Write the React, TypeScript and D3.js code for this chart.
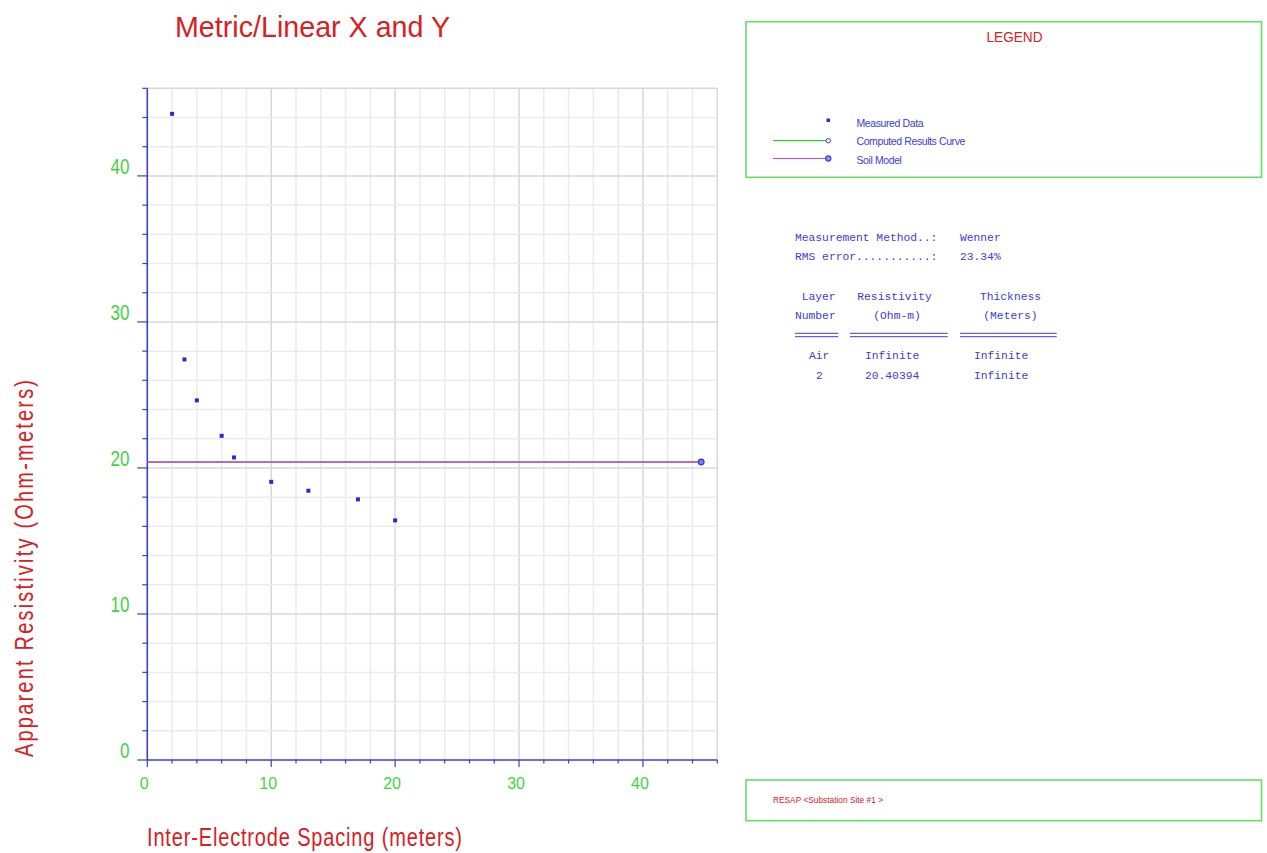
import React from "react";
import * as d3 from "d3";

// ---- data ----
const spacing = [2, 3, 4, 6, 7, 10, 13, 17, 20];
const resistivity = [44.25, 27.43, 24.63, 22.2, 20.72, 19.05, 18.44, 17.85, 16.41];
const soilModelX = [0, 44.7];
const soilModelY = [20.40394, 20.40394];
const computedX = [0, 44.7];
const computedY = [20.40394, 20.40394];
const xTicks = [0, 10, 20, 30, 40];
const yTicks = [0, 10, 20, 30, 40];
const legendItems = ["Measured Data", "Computed Results Curve", "Soil Model"];
const infoLabels = ["Measurement Method..:", "RMS error...........:"];
const infoValues = ["Wenner", "23.34%"];
const layerNames = ["Air", "2"];
const layerRes = ["Infinite", "20.40394"];
const layerThick = ["Infinite", "Infinite"];

const RED = "#d8201f";
const BLUE = "#3c3cd8";
const GREEN_TXT = "#3fd33f";
const BOX_GREEN = "#66dd66";
const MONO = "'Liberation Mono', 'DejaVu Sans Mono', monospace";
const SANS = "'Liberation Sans', Arial, sans-serif";

export default function App() {
  const x = d3.scaleLinear().domain([0, 46]).range([147.3, 717.3]);
  const y = d3.scaleLinear().domain([0, 46]).range([760, 88.3]);
  const grid = d3.range(2, 47, 2);
  const ticks = d3.range(0, 47, 2);
  const pathOf = (xs: number[], ys: number[]) =>
    d3.line<[number, number]>().x((d) => x(d[0])).y((d) => y(d[1]))(
      xs.map((v, i) => [v, ys[i]] as [number, number])
    ) ?? "";
  const soilPath = pathOf(soilModelX, soilModelY);
  const compPath = pathOf(computedX, computedY);

  return (
    <svg
      width={1267}
      height={853}
      style={{ position: "absolute", left: 0, top: 0, background: "#fff" }}
    >
      {/* title */}
      <g transform="translate(175,36.5) scale(1,1.25)">
        <text x={0} y={0} fontFamily={SANS} fontSize={24} fill={RED} textLength={275} lengthAdjust="spacingAndGlyphs">
          Metric/Linear X and Y
        </text>
      </g>

      {/* grid */}
      {grid.map((g) => (
        <line key={"vx" + g} x1={x(g)} x2={x(g)} y1={y(46)} y2={y(0)} stroke={g % 10 === 0 || g === 46 ? "#d8d8d8" : "#ebebeb"} strokeWidth={1.5} />
      ))}
      {grid.map((g) => (
        <line key={"hy" + g} y1={y(g)} y2={y(g)} x1={x(0)} x2={x(46)} stroke={g % 10 === 0 || g === 46 ? "#d8d8d8" : "#ebebeb"} strokeWidth={1.5} />
      ))}

      {/* axes */}
      <line x1={x(0)} x2={x(0)} y1={y(46)} y2={y(0)} stroke={BLUE} strokeWidth={1.6} />
      <line x1={x(0)} x2={x(46)} y1={y(0)} y2={y(0)} stroke={BLUE} strokeWidth={1.6} />
      {ticks.map((t) => (
        <line key={"yt" + t} x1={x(0) - (t % 10 === 0 ? 10 : 5)} x2={x(0)} y1={y(t)} y2={y(t)} stroke={BLUE} strokeWidth={1.2} />
      ))}
      {ticks.map((t) => (
        <line key={"xt" + t} x1={x(t)} x2={x(t)} y1={y(0)} y2={y(0) + (t % 10 === 0 ? 7 : 3.5)} stroke={BLUE} strokeWidth={1.2} />
      ))}

      {/* tick labels */}
      {yTicks.map((t) => (
        <g key={"yl" + t} transform={`translate(129.5,${y(t) - 2}) scale(1,1.3)`}>
          <text x={0} y={0} textAnchor="end" fontFamily={SANS} fontSize={17} fill={GREEN_TXT}>
            {t}
          </text>
        </g>
      ))}
      {xTicks.map((t) => (
        <text key={"xl" + t} x={x(t) - 3} y={788.5} textAnchor="middle" fontFamily={SANS} fontSize={16} fill={GREEN_TXT}>
          {t}
        </text>
      ))}

      {/* axis labels */}
      <g transform="translate(147,846) scale(1,1.25)">
        <text x={0} y={0} fontFamily={SANS} fontSize={20} fill={RED} textLength={315} lengthAdjust="spacing">
          Inter-Electrode Spacing (meters)
        </text>
      </g>
      <g transform="translate(32.5,757) rotate(-90) scale(1,1.25)">
        <text x={0} y={0} fontFamily={SANS} fontSize={20} fill={RED} textLength={377} lengthAdjust="spacing">
          Apparent Resistivity (Ohm-meters)
        </text>
      </g>

      {/* computed and soil model curves */}
      <path d={compPath} fill="none" stroke="#33cc33" strokeWidth={1.3} />
      <path d={soilPath} fill="none" stroke="#cc44cc" strokeWidth={1.5} />
      <circle cx={x(soilModelX[1])} cy={y(soilModelY[1])} r={2.8} fill="#8080ee" stroke={BLUE} strokeWidth={1.3} />

      {/* measured data */}
      {spacing.map((s, i) => (
        <rect key={"p" + i} x={x(s) - 2} y={y(resistivity[i]) - 2} width={4} height={4} fill="#2a2ad0" />
      ))}

      {/* legend box */}
      <rect x={746} y={21.7} width={515.5} height={155.6} fill="none" stroke={BOX_GREEN} strokeWidth={1.6} />
      <text x={1014.5} y={42} textAnchor="middle" fontFamily={SANS} fontSize={14} fill={RED} textLength={56} lengthAdjust="spacingAndGlyphs">
        LEGEND
      </text>
      <rect x={826.5} y={118.5} width={3.5} height={3.5} fill="#2a2ad0" />
      <line x1={773} x2={826} y1={140.7} y2={140.7} stroke="#33cc33" strokeWidth={1.2} />
      <circle cx={828.3} cy={140.7} r={2.2} fill="#fff" stroke={BLUE} strokeWidth={1} />
      <line x1={773} x2={826} y1={158.5} y2={158.5} stroke="#cc44cc" strokeWidth={1.2} />
      <circle cx={828.3} cy={158.5} r={2.6} fill="#9090ee" stroke={BLUE} strokeWidth={1.1} />
      {legendItems.map((t, i) => (
        <text key={"lg" + i} x={856.5} y={126.5 + i * 18.9} fontFamily={SANS} fontSize={10.5} fill={BLUE} letterSpacing={-0.4}>
          {t}
        </text>
      ))}

      {/* info table */}
      {infoLabels.map((t, i) => (
        <text key={"il" + i} x={795} y={240.7 + i * 19.5} fontFamily={MONO} fontSize={11.3} fill={BLUE} style={{ whiteSpace: "pre" }}>
          {t}
        </text>
      ))}
      {infoValues.map((t, i) => (
        <text key={"iv" + i} x={960} y={240.7 + i * 19.5} fontFamily={MONO} fontSize={11.3} fill={BLUE}>
          {t}
        </text>
      ))}
      <text x={801.7} y={300} fontFamily={MONO} fontSize={11.3} fill={BLUE}>Layer</text>
      <text x={857.3} y={300} fontFamily={MONO} fontSize={11.3} fill={BLUE}>Resistivity</text>
      <text x={980} y={300} fontFamily={MONO} fontSize={11.3} fill={BLUE}>Thickness</text>
      <text x={795} y={319} fontFamily={MONO} fontSize={11.3} fill={BLUE}>Number</text>
      <text x={873.3} y={319} fontFamily={MONO} fontSize={11.3} fill={BLUE}>(Ohm-m)</text>
      <text x={983.3} y={319} fontFamily={MONO} fontSize={11.3} fill={BLUE}>(Meters)</text>
      {[
        [795, 838.3],
        [850, 947.7],
        [960, 1056.7],
      ].map(([a, b], i) => (
        <g key={"dl" + i}>
          <line x1={a} x2={b} y1={333.3} y2={333.3} stroke={BLUE} strokeWidth={1} />
          <line x1={a} x2={b} y1={336.7} y2={336.7} stroke={BLUE} strokeWidth={1} />
        </g>
      ))}
      {layerNames.map((t, i) => (
        <g key={"lr" + i}>
          <text x={i === 0 ? 809 : 816} y={359.3 + i * 20} fontFamily={MONO} fontSize={11.3} fill={BLUE}>{t}</text>
          <text x={865} y={359.3 + i * 20} fontFamily={MONO} fontSize={11.3} fill={BLUE}>{layerRes[i]}</text>
          <text x={974} y={359.3 + i * 20} fontFamily={MONO} fontSize={11.3} fill={BLUE}>{layerThick[i]}</text>
        </g>
      ))}

      {/* footer box */}
      <rect x={746} y={780} width={515.5} height={40.7} fill="none" stroke={BOX_GREEN} strokeWidth={1.6} />
      <text x={773} y={803} fontFamily={SANS} fontSize={9} fill={RED} textLength={110} lengthAdjust="spacingAndGlyphs">
        {"RESAP <Substation Site #1 >"}
      </text>
    </svg>
  );
}
